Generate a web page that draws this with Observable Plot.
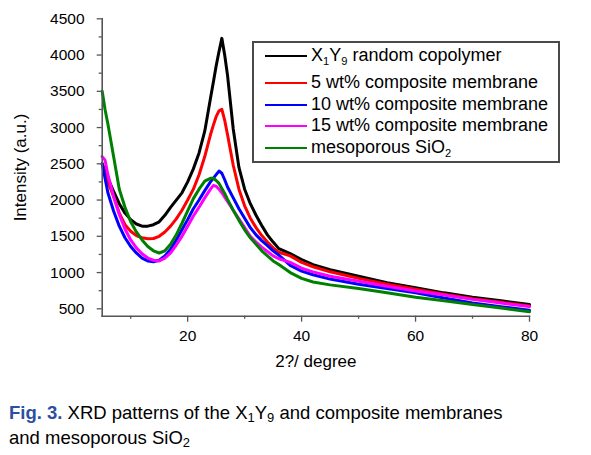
<!DOCTYPE html>
<html><head><meta charset="utf-8">
<script src="https://cdn.jsdelivr.net/npm/d3@7"></script>
<script src="https://cdn.jsdelivr.net/npm/@observablehq/plot@0.6"></script>
<style>
body{margin:0;background:#fff;font-family:"Liberation Sans",Arial,sans-serif;}
#wrap{position:relative;width:591px;height:455px;overflow:hidden;background:#fff;}
#chart{position:absolute;left:0;top:0;}
#legend{position:absolute;left:252px;top:41px;width:308px;height:122px;border:2px solid #4a4a4a;box-sizing:border-box;background:#fff;}
.sw{position:absolute;left:11px;width:42px;height:2px;}
.lt{position:absolute;left:57px;font-size:18px;line-height:20px;white-space:nowrap;color:#000;}
.lt sub{font-size:0.62em;vertical-align:-0.35em;line-height:0;}
#caption{position:absolute;left:9px;top:400px;font-size:18.5px;line-height:25px;white-space:nowrap;color:#000;}
#caption b{color:#2d4f9f;}
#caption sub{font-size:0.7em;vertical-align:-0.2em;line-height:0;}
</style></head>
<body><div id="wrap"><div id="chart"></div><div id="legend"></div>
<div id="caption"><b>Fig. 3.</b> XRD patterns of the X<sub>1</sub>Y<sub>9</sub> and composite membranes<br>and mesoporous SiO<sub>2</sub></div></div>
<script>
// 2θ positions (degrees) at which the curves were read
const twoTheta = [5,5.5,6,7,8,9,10,11,12,13,14,15,16,17,18,19,20,21,22,23,24,24.5,25,25.5,26,26.5,27,28,29,30,31,32,33,34,35,36,38,40,42,45,50,55,60,65,70,75,80];
// X1Y9 random copolymer (black)
const x1y9 = [2500,2400,2300,2120,1950,1820,1730,1670,1640,1640,1660,1700,1790,1900,2000,2100,2250,2430,2650,2950,3400,3620,3850,4050,4230,4000,3720,2980,2450,2150,1950,1790,1650,1520,1420,1330,1260,1180,1110,1040,950,860,790,720,660,610,560];
// 5 wt% composite membrane (red)
const wt5 = [2500,2350,2250,2050,1820,1660,1570,1510,1480,1465,1470,1500,1560,1640,1740,1860,2000,2150,2350,2600,2900,3030,3150,3230,3250,3100,2900,2480,2150,1920,1750,1620,1510,1420,1340,1280,1230,1140,1080,1010,920,840,770,700,640,590,540];
// 10 wt% composite membrane (blue)
const wt10 = [2500,2300,2100,1850,1640,1480,1360,1270,1200,1160,1150,1170,1230,1320,1450,1590,1730,1880,2000,2130,2250,2300,2350,2400,2370,2280,2180,2030,1880,1750,1620,1520,1440,1370,1300,1240,1100,1020,970,910,840,780,720,650,580,530,480];
// 15 wt% composite membrane (magenta)
const wt15 = [2600,2550,2350,2050,1800,1600,1450,1340,1260,1200,1170,1160,1200,1270,1380,1500,1640,1780,1900,2030,2150,2200,2190,2150,2100,2040,1980,1860,1740,1620,1500,1420,1350,1290,1230,1190,1140,1060,1010,950,880,810,745,690,630,580,530];
// mesoporous SiO2 (green)
const sio2 = [3500,3250,3050,2600,2150,1900,1700,1560,1450,1360,1300,1270,1300,1390,1520,1680,1850,2020,2150,2260,2300,2300,2270,2230,2160,2090,2010,1860,1720,1590,1480,1390,1300,1230,1160,1110,1000,920,870,830,780,720,660,610,560,510,460];

const seriesKeys = ["x1y9","wt5","wt10","wt15","sio2"];
const seriesLabels = ["X<sub>1</sub>Y<sub>9</sub> random copolymer","5 wt% composite membrane","10 wt% composite membrane","15 wt% composite membrane","mesoporous SiO<sub>2</sub>"];
const seriesColors = ["#000000","#ff0000","#0000ff","#ff00ff","#008000"];
const seriesValues = [x1y9, wt5, wt10, wt15, sio2];

const xTicks = [20,40,60,80];
const xMinorTicks = [10,30,50,70];
const yTicks = [500,1000,1500,2000,2500,3000,3500,4000,4500];
const yMinorTicks = [750,1250,1750,2250,2750,3250,3750,4250];
const xDomain = [5,80];
const yDomain = [398,4500];

const rows = [];
seriesValues.forEach((vals, i) => vals.forEach((v, j) => rows.push({x: twoTheta[j], y: v, s: seriesKeys[i]})));

const axisColor = "#555";
const fmt = d => String(d);
const plot = Plot.plot({
  width: 591, height: 375,
  marginLeft: 101.7, marginRight: 62, marginTop: 18.3, marginBottom: 59.3,
  style: {fontFamily: "'Liberation Sans', Arial, sans-serif", fontSize: "15.5px", color: "#000", background: "#fff", overflow: "visible"},
  x: {domain: xDomain},
  y: {domain: yDomain},
  color: {domain: seriesKeys, range: seriesColors},
  marks: [
    ...seriesKeys.map(k => Plot.line(rows.filter(d => d.s === k), {x: "x", y: "y", stroke: "s", strokeWidth: 3, strokeLinejoin: "round"})),
    Plot.axisX({ticks: xTicks, tickSize: 6, tickPadding: 8, tickFormat: fmt, stroke: axisColor, strokeWidth: 1.3, label: "2?/ degree", labelArrow: "none", labelAnchor: "center", labelOffset: 51}),
    Plot.axisX({ticks: xMinorTicks, tickSize: 3, stroke: axisColor, strokeWidth: 1.3, tickFormat: () => "", label: null}),
    Plot.axisY({ticks: yTicks, tickSize: 5, tickPadding: 12.7, tickFormat: fmt, stroke: axisColor, strokeWidth: 1.3, label: "Intensity (a.u.)", labelArrow: "none", labelAnchor: "center", labelOffset: 88}),
    Plot.axisY({ticks: yMinorTicks, tickSize: 3, stroke: axisColor, strokeWidth: 1.3, tickFormat: () => "", label: null}),
    Plot.frame({anchor: "left", stroke: axisColor, strokeWidth: 1.6}),
    Plot.frame({anchor: "bottom", stroke: axisColor, strokeWidth: 1.6})
  ]
});
document.getElementById("chart").appendChild(plot);
d3.select(plot).selectAll('g[aria-label="x-axis label"], g[aria-label="y-axis label"]').attr("font-size", 17)
  .selectAll("text").each(function() { this.textContent = this.textContent.replace(/\s*[↑↓←→]\s*/g, ""); });

// legend (row centres relative to the box's inner top edge)
const leg = document.getElementById("legend");
const rowCenters = [13, 40, 62, 83, 105];
seriesKeys.forEach((k, i) => {
  const sw = document.createElement("div");
  sw.className = "sw";
  sw.style.top = (rowCenters[i] - 1) + "px";
  sw.style.background = seriesColors[i];
  leg.appendChild(sw);
  const t = document.createElement("div");
  t.className = "lt";
  t.style.top = (rowCenters[i] - 11) + "px";
  t.innerHTML = seriesLabels[i];
  leg.appendChild(t);
});
</script></body></html>
